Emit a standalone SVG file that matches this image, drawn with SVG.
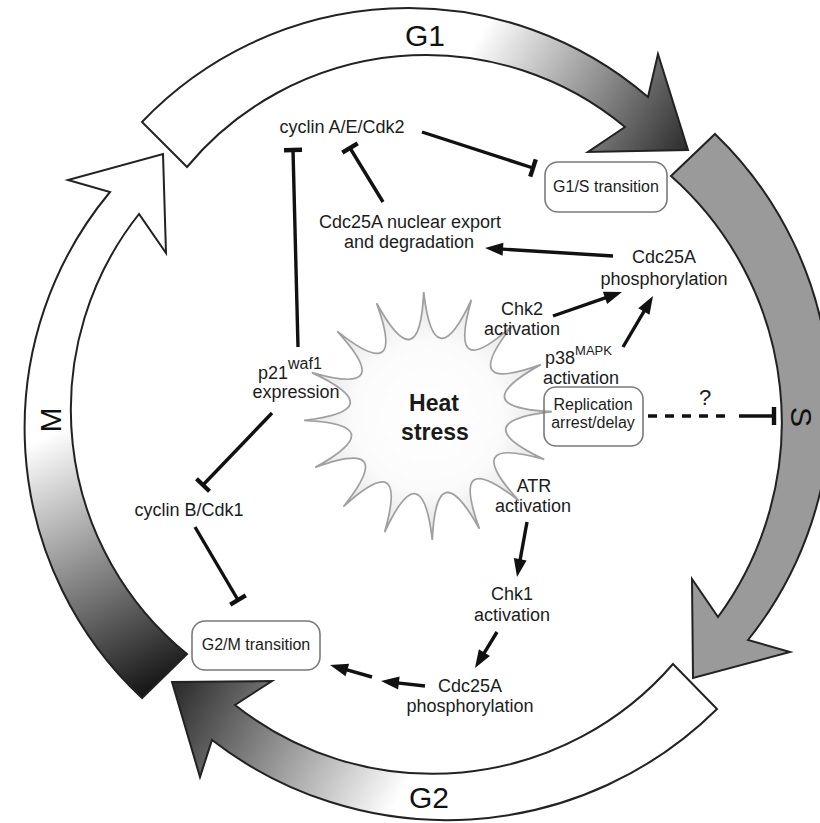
<svg xmlns="http://www.w3.org/2000/svg" width="820" height="823" viewBox="0 0 820 823">
<style>
text{font-family:"Liberation Sans",Arial,Helvetica,sans-serif;fill:#1c1c1c}
.lbl{font-size:18px;text-anchor:middle}
.bt{font-size:16px;text-anchor:middle}
.ph{font-size:30px;fill:#111;text-anchor:middle}
.band{stroke:#222;stroke-width:2;stroke-linejoin:miter}
.box{fill:#fff;stroke:#7a7a7a;stroke-width:1.6}
.ln{stroke:#111;stroke-width:3.4;fill:none}
</style>
<defs>
<linearGradient id="gG1" gradientUnits="userSpaceOnUse" x1="480" y1="35" x2="690" y2="160"><stop offset="0" stop-color="#fff"/><stop offset="1" stop-color="#262626"/></linearGradient>
<linearGradient id="gG2" gradientUnits="userSpaceOnUse" x1="178" y1="685" x2="395" y2="805"><stop offset="0" stop-color="#2e2e2e"/><stop offset="1" stop-color="#fff"/></linearGradient>
<linearGradient id="gM" gradientUnits="userSpaceOnUse" x1="40" y1="440" x2="165" y2="685"><stop offset="0" stop-color="#fff"/><stop offset="1" stop-color="#151515"/></linearGradient>
<radialGradient id="gStar" gradientUnits="userSpaceOnUse" cx="428" cy="416" r="124"><stop offset="0" stop-color="#fff"/><stop offset="0.6" stop-color="#fbfbfb"/><stop offset="1" stop-color="#e2e2e2"/></radialGradient>
<marker id="arr" markerUnits="userSpaceOnUse" viewBox="-5 -8 20 16" refX="0" refY="0" markerWidth="20" markerHeight="16" orient="auto"><path d="M14,0 L-4,-6.5 L-4,6.5 Z" fill="#111"/></marker>
<marker id="bar" markerUnits="userSpaceOnUse" viewBox="-3 -10 6 20" refX="0" refY="0" markerWidth="6" markerHeight="20" orient="auto"><rect x="-2.2" y="-9" width="4.4" height="18" fill="#111"/></marker>
</defs>
<rect width="820" height="823" fill="#fff"/>

<g id="cycle">
<g id="phase-G1">
<path class="band" fill="url(#gG1)" d="M142,122 A368,368 0 0 1 648,97 L658,54 L688,150 L588,152 L625,127 A311,311 0 0 0 187,167 Z"/>
<text class="ph" x="425" y="46">G1</text>
</g>
<g id="phase-S">
<path class="band" fill="#9a9a9a" d="M715,134 A376,376 0 0 1 748,640 L790,652 L693,678 L692,579 L718,617 A329,329 0 0 0 671,176 Z"/>
<text class="ph" transform="translate(802,417) rotate(90)" y="10.7">S</text>
</g>
<g id="phase-G2">
<path class="band" fill="url(#gG2)" d="M717,709 A384,384 0 0 1 212,740 L200,777 L172,682 L272,681 L235,705 A318,318 0 0 0 673,664 Z"/>
<text class="ph" x="429" y="808">G2</text>
</g>
<g id="phase-M">
<path class="band" fill="url(#gM)" d="M142,698 A369,369 0 0 1 110,192 L68,180 L163,154 L166,253 L139,214 A315,315 0 0 0 187,654 Z"/>
<text class="ph" transform="translate(50,420) rotate(-90)" y="10.7">M</text>
</g>
</g>

<g id="heat-stress">
<path fill="url(#gStar)" stroke="#a0a0a0" stroke-width="1.8" stroke-linejoin="miter" d="M423.7,292.1 Q433.8,380.5 471.4,299.8 Q446.9,385.4 512.6,325.3 Q457.2,395.0 540.8,364.6 Q463.0,407.7 551.9,411.7 Q463.5,421.8 544.2,459.4 Q458.6,434.9 518.7,500.6 Q449.0,445.2 479.4,528.8 Q436.3,451.0 432.3,539.9 Q422.2,451.5 384.6,532.2 Q409.1,446.6 343.4,506.7 Q398.8,437.0 315.2,467.4 Q393.0,424.3 304.1,420.3 Q392.5,410.2 311.8,372.6 Q397.4,397.1 337.3,331.4 Q407.0,386.8 376.6,303.2 Q419.7,381.0 423.7,292.1 Z"/>
<text style="font-size:23px;font-weight:bold;text-anchor:middle;fill:#1a1a1a" x="434" y="411">Heat</text>
<text style="font-size:23px;font-weight:bold;text-anchor:middle;fill:#1a1a1a" x="435" y="440">stress</text>
</g>

<g id="cyclinAE"><text class="lbl" x="342" y="133">cyclin A/E/Cdk2</text></g>
<g id="g1s"><rect class="box" x="545" y="162" width="122" height="50" rx="13"/><text class="bt" x="606" y="192">G1/S transition</text></g>
<g id="cdc25a-export"><text class="lbl" x="410" y="228">Cdc25A nuclear export</text><text class="lbl" x="409" y="248">and degradation</text></g>
<g id="cdc25a-phos-top"><text class="lbl" x="664" y="263">Cdc25A</text><text class="lbl" x="664" y="285">phosphorylation</text></g>
<g id="chk2"><text class="lbl" x="522" y="315">Chk2</text><text class="lbl" x="522" y="335">activation</text></g>
<g id="p38"><text class="lbl" style="text-anchor:start" x="545" y="364">p38<tspan style="font-size:13px" dy="-9">MAPK</tspan></text><text class="lbl" x="581" y="384">activation</text></g>
<g id="replication"><rect x="544" y="387" width="99" height="59" rx="12" fill="none" stroke="#7a7a7a" stroke-width="1.6"/><text class="bt" x="593" y="410">Replication</text><text class="bt" x="593" y="428">arrest/delay</text></g>
<g id="question"><text style="font-size:22px;text-anchor:middle" x="705" y="405">?</text></g>
<g id="p21"><text class="lbl" style="text-anchor:start" x="258" y="379">p21<tspan style="font-size:16px" dy="-10">waf1</tspan></text><text class="lbl" x="296" y="398">expression</text></g>
<g id="atr"><text class="lbl" x="534" y="492">ATR</text><text class="lbl" x="533" y="512">activation</text></g>
<g id="chk1"><text class="lbl" x="512" y="600">Chk1</text><text class="lbl" x="512" y="621">activation</text></g>
<g id="cdc25a-phos-bottom"><text class="lbl" x="470" y="692">Cdc25A</text><text class="lbl" x="470" y="712">phosphorylation</text></g>
<g id="cyclinB"><text class="lbl" x="189" y="516">cyclin B/Cdk1</text></g>
<g id="g2m"><rect class="box" x="192" y="621" width="128" height="49" rx="13"/><text class="bt" x="256" y="650">G2/M transition</text></g>

<g id="connectors">
<line class="ln" x1="298" y1="347" x2="293" y2="150" marker-end="url(#bar)"/>
<line class="ln" x1="383" y1="202" x2="350" y2="148" marker-end="url(#bar)"/>
<line class="ln" x1="422" y1="132" x2="533" y2="168" marker-end="url(#bar)"/>
<line class="ln" x1="613" y1="256" x2="499" y2="248.9" marker-end="url(#arr)"/>
<line class="ln" x1="553" y1="316" x2="608.8" y2="296.6" marker-end="url(#arr)"/>
<line class="ln" x1="623" y1="347" x2="645.9" y2="308.1" marker-end="url(#arr)"/>
<line class="ln" x1="648" y1="416" x2="731" y2="416" stroke-dasharray="9 8"/>
<line class="ln" x1="739" y1="416" x2="774" y2="416" marker-end="url(#bar)"/>
<line class="ln" x1="527" y1="522" x2="519.5" y2="563.2" marker-end="url(#arr)"/>
<line class="ln" x1="497" y1="632" x2="482.3" y2="656.1" marker-end="url(#arr)"/>
<line class="ln" x1="425" y1="686" x2="394.9" y2="682.6" marker-end="url(#arr)"/>
<line class="ln" x1="372" y1="677" x2="343.5" y2="668.8" marker-end="url(#arr)"/>
<line class="ln" x1="272" y1="413" x2="203" y2="485" marker-end="url(#bar)"/>
<line class="ln" x1="195" y1="527" x2="238" y2="600" marker-end="url(#bar)"/>
</g>
</svg>
